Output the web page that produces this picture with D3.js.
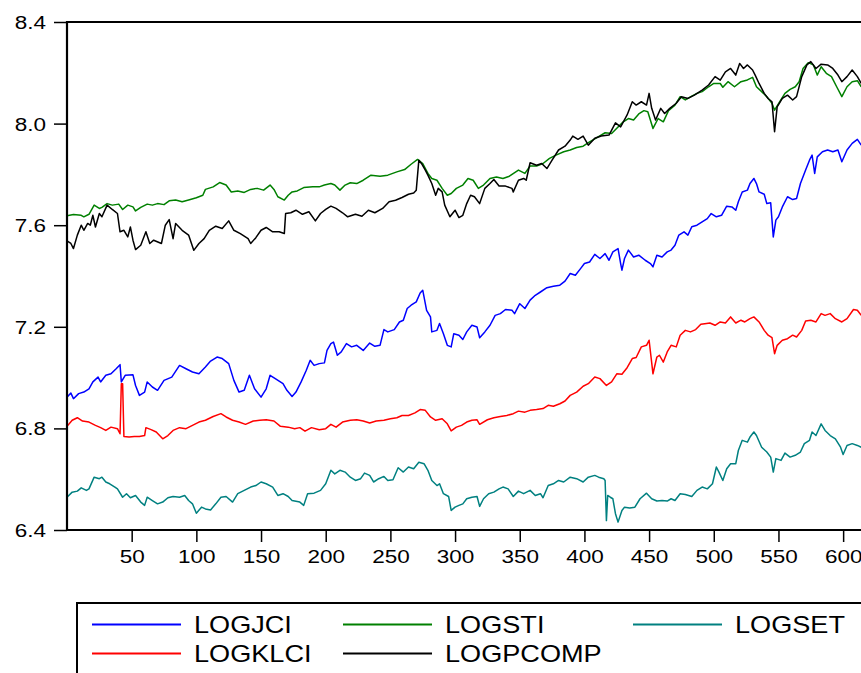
<!DOCTYPE html>
<html>
<head>
<meta charset="utf-8">
<script src="https://cdn.jsdelivr.net/npm/d3@7"></script>
<style>
  body { margin: 0; background: #fff; }
  svg { display: block; }
  text { font-family: "Liberation Sans", Arial, sans-serif; fill: #000; }
</style>
</head>
<body>
<div id="chart"></div>
<script>
const logjci = [[0,6.923],[3,6.939],[5,6.917],[9,6.937],[13,6.943],[17,6.956],[20,6.983],[24,7.002],[26,6.983],[30,7.009],[34,7.015],[38,7.035],[41,7.051],[42,6.983],[45,7.009],[51,7.011],[53,6.969],[56,6.930],[60,6.943],[62,6.983],[66,6.963],[70,6.950],[75,6.989],[81,7.002],[87,7.048],[92,7.035],[97,7.022],[102,7.015],[107,7.042],[111,7.065],[116,7.081],[120,7.075],[125,7.055],[129,6.989],[133,6.943],[137,6.950],[141,7.009],[145,6.956],[150,6.923],[154,6.956],[157,7.009],[161,6.996],[167,6.976],[170,6.950],[174,6.926],[177,6.943],[181,6.983],[185,7.029],[188,7.068],[191,7.048],[195,7.055],[199,7.058],[201,7.107],[204,7.134],[206,7.140],[209,7.088],[212,7.101],[216,7.134],[220,7.121],[224,7.127],[229,7.107],[234,7.136],[238,7.123],[242,7.127],[245,7.189],[248,7.180],[253,7.189],[257,7.219],[260,7.226],[263,7.272],[266,7.285],[270,7.298],[273,7.333],[275,7.344],[278,7.265],[281,7.239],[282,7.180],[286,7.186],[288,7.213],[291,7.173],[294,7.127],[297,7.121],[299,7.173],[303,7.167],[306,7.150],[309,7.180],[313,7.206],[317,7.199],[319,7.157],[323,7.180],[327,7.206],[331,7.245],[335,7.252],[339,7.268],[344,7.265],[346,7.252],[350,7.291],[354,7.272],[358,7.305],[362,7.324],[366,7.337],[371,7.354],[376,7.360],[381,7.364],[385,7.380],[389,7.410],[393,7.403],[397,7.429],[400,7.449],[404,7.455],[408,7.485],[412,7.469],[416,7.488],[419,7.462],[422,7.495],[426,7.508],[428,7.449],[429,7.423],[431,7.469],[434,7.502],[438,7.475],[442,7.482],[447,7.462],[451,7.449],[453,7.436],[456,7.482],[460,7.475],[464,7.495],[467,7.502],[470,7.521],[473,7.561],[477,7.574],[480,7.561],[483,7.594],[487,7.600],[491,7.613],[495,7.626],[498,7.646],[502,7.633],[506,7.639],[510,7.675],[514,7.672],[517,7.659],[519,7.692],[522,7.731],[526,7.738],[528,7.764],[531,7.784],[533,7.764],[535,7.731],[539,7.722],[541,7.685],[544,7.688],[546,7.554],[548,7.620],[550,7.633],[553,7.672],[557,7.712],[561,7.701],[564,7.705],[567,7.764],[571,7.817],[574,7.856],[576,7.876],[578,7.804],[580,7.869],[584,7.889],[588,7.896],[592,7.889],[596,7.896],[599,7.850],[603,7.896],[607,7.922],[611,7.938],[614,7.915]];

const logklci = [[0,6.808],[4,6.832],[8,6.842],[12,6.829],[17,6.825],[22,6.812],[26,6.803],[30,6.792],[34,6.805],[39,6.799],[41,6.779],[42,6.976],[43,6.976],[44,6.768],[48,6.766],[52,6.768],[56,6.768],[60,6.772],[61,6.803],[65,6.795],[69,6.786],[74,6.759],[78,6.772],[82,6.792],[87,6.803],[92,6.799],[97,6.812],[102,6.825],[107,6.832],[113,6.847],[119,6.858],[123,6.845],[128,6.832],[133,6.825],[138,6.816],[144,6.829],[149,6.832],[154,6.834],[160,6.829],[165,6.808],[171,6.805],[176,6.799],[180,6.803],[184,6.789],[189,6.803],[195,6.795],[200,6.799],[204,6.816],[208,6.805],[213,6.825],[219,6.832],[224,6.834],[229,6.829],[234,6.821],[239,6.829],[245,6.832],[250,6.838],[255,6.842],[259,6.851],[264,6.851],[269,6.861],[273,6.874],[277,6.871],[281,6.845],[285,6.832],[290,6.838],[294,6.818],[297,6.790],[301,6.805],[305,6.812],[309,6.825],[313,6.832],[317,6.834],[319,6.816],[325,6.834],[330,6.842],[335,6.847],[340,6.851],[345,6.858],[349,6.868],[354,6.864],[358,6.871],[363,6.874],[368,6.878],[372,6.891],[376,6.887],[381,6.897],[385,6.908],[389,6.930],[394,6.943],[399,6.966],[403,6.976],[408,7.002],[412,6.996],[417,6.969],[421,6.983],[425,7.015],[429,7.013],[433,7.039],[437,7.075],[440,7.079],[444,7.121],[448,7.127],[450,7.147],[453,7.015],[456,7.081],[458,7.088],[461,7.061],[464,7.101],[467,7.127],[471,7.121],[474,7.167],[478,7.186],[482,7.180],[486,7.189],[490,7.210],[493,7.212],[497,7.215],[501,7.206],[505,7.219],[509,7.215],[513,7.239],[517,7.215],[521,7.226],[524,7.219],[528,7.232],[531,7.239],[535,7.219],[539,7.186],[542,7.167],[545,7.157],[547,7.094],[549,7.127],[553,7.147],[557,7.153],[561,7.167],[564,7.160],[568,7.186],[571,7.223],[575,7.226],[579,7.219],[583,7.252],[586,7.245],[590,7.252],[594,7.232],[599,7.219],[603,7.232],[608,7.268],[611,7.265],[614,7.245]];

const logsti = [[0,7.637],[5,7.642],[11,7.639],[13,7.633],[17,7.643],[21,7.679],[25,7.666],[27,7.670],[31,7.685],[35,7.679],[40,7.683],[43,7.662],[47,7.679],[51,7.672],[53,7.656],[57,7.670],[62,7.683],[66,7.679],[70,7.685],[75,7.681],[79,7.696],[84,7.699],[89,7.692],[94,7.699],[100,7.708],[105,7.718],[107,7.741],[113,7.751],[118,7.768],[123,7.758],[127,7.731],[132,7.735],[137,7.729],[142,7.741],[147,7.745],[152,7.738],[157,7.758],[160,7.741],[163,7.712],[168,7.699],[171,7.718],[174,7.731],[178,7.735],[183,7.748],[190,7.751],[195,7.751],[199,7.758],[204,7.764],[207,7.758],[211,7.738],[215,7.758],[219,7.767],[224,7.764],[229,7.777],[235,7.797],[242,7.793],[248,7.797],[255,7.810],[261,7.819],[266,7.840],[271,7.859],[275,7.843],[279,7.804],[282,7.784],[286,7.777],[290,7.745],[294,7.718],[297,7.725],[301,7.745],[306,7.758],[310,7.784],[314,7.777],[318,7.745],[322,7.758],[327,7.784],[332,7.790],[337,7.784],[342,7.793],[349,7.817],[354,7.804],[358,7.833],[363,7.833],[368,7.843],[373,7.863],[378,7.876],[384,7.889],[389,7.896],[394,7.906],[399,7.911],[404,7.928],[408,7.940],[416,7.964],[421,7.961],[426,7.987],[430,8.007],[434,8.020],[438,8.014],[442,8.038],[446,8.051],[449,8.047],[453,7.981],[457,8.020],[461,8.007],[465,8.051],[470,8.073],[474,8.106],[478,8.093],[483,8.108],[487,8.119],[491,8.126],[496,8.145],[500,8.158],[505,8.158],[507,8.143],[511,8.165],[516,8.145],[521,8.165],[526,8.172],[530,8.182],[533,8.145],[537,8.126],[541,8.106],[545,8.080],[547,8.053],[551,8.086],[555,8.119],[559,8.135],[563,8.145],[566,8.165],[569,8.217],[573,8.240],[577,8.231],[580,8.191],[583,8.224],[587,8.198],[591,8.185],[595,8.145],[599,8.106],[603,8.145],[607,8.165],[611,8.169],[614,8.145]];

const logpcomp = [[0,7.538],[3,7.528],[5,7.508],[8,7.561],[11,7.600],[13,7.580],[16,7.607],[18,7.600],[20,7.639],[22,7.593],[25,7.646],[27,7.633],[31,7.679],[35,7.662],[39,7.646],[41,7.574],[44,7.580],[47,7.554],[49,7.593],[51,7.541],[53,7.504],[57,7.521],[61,7.574],[64,7.528],[67,7.541],[73,7.528],[76,7.600],[79,7.622],[82,7.547],[84,7.607],[89,7.580],[94,7.561],[98,7.501],[102,7.528],[106,7.547],[110,7.580],[115,7.596],[120,7.587],[125,7.617],[129,7.580],[134,7.567],[140,7.547],[142,7.528],[146,7.551],[150,7.580],[154,7.591],[159,7.574],[164,7.574],[168,7.567],[169,7.646],[173,7.649],[177,7.659],[182,7.643],[187,7.653],[192,7.617],[196,7.646],[200,7.662],[204,7.675],[208,7.666],[213,7.649],[217,7.633],[223,7.643],[228,7.635],[233,7.659],[238,7.649],[244,7.666],[249,7.692],[254,7.698],[259,7.709],[264,7.722],[268,7.727],[270,7.738],[272,7.856],[274,7.843],[277,7.817],[279,7.797],[282,7.764],[285,7.718],[287,7.745],[290,7.731],[292,7.679],[296,7.633],[300,7.659],[303,7.630],[306,7.639],[309,7.685],[312,7.718],[315,7.712],[319,7.685],[323,7.745],[327,7.764],[330,7.780],[334,7.754],[339,7.754],[344,7.745],[345,7.731],[349,7.777],[353,7.784],[355,7.777],[358,7.846],[363,7.836],[367,7.843],[371,7.823],[375,7.856],[380,7.896],[385,7.911],[389,7.935],[391,7.951],[395,7.938],[399,7.951],[403,7.915],[408,7.942],[413,7.951],[419,7.955],[424,8.003],[428,7.987],[433,8.034],[437,8.086],[440,8.073],[444,8.086],[448,8.073],[450,8.119],[452,8.060],[455,8.014],[459,8.060],[462,8.040],[466,8.060],[471,8.080],[475,8.106],[480,8.099],[485,8.112],[491,8.132],[496,8.152],[501,8.185],[505,8.171],[509,8.204],[513,8.217],[517,8.191],[520,8.237],[523,8.217],[526,8.231],[530,8.211],[532,8.191],[535,8.158],[539,8.119],[542,8.099],[545,8.086],[547,7.968],[549,8.066],[553,8.099],[557,8.112],[561,8.093],[564,8.106],[568,8.185],[572,8.231],[575,8.244],[579,8.217],[583,8.234],[588,8.231],[592,8.217],[596,8.191],[599,8.165],[603,8.185],[607,8.211],[611,8.185],[614,8.158]];

const logset = [[0,6.529],[4,6.549],[8,6.553],[11,6.566],[15,6.556],[17,6.562],[21,6.608],[25,6.602],[27,6.608],[30,6.589],[33,6.582],[37,6.569],[39,6.562],[43,6.529],[46,6.543],[49,6.527],[53,6.536],[57,6.510],[60,6.497],[62,6.529],[66,6.516],[70,6.503],[74,6.510],[78,6.527],[82,6.532],[87,6.529],[91,6.536],[94,6.516],[97,6.503],[100,6.466],[104,6.490],[107,6.483],[111,6.479],[115,6.503],[119,6.529],[123,6.532],[128,6.510],[132,6.543],[137,6.556],[142,6.569],[146,6.575],[150,6.589],[154,6.582],[159,6.569],[163,6.536],[167,6.543],[171,6.532],[174,6.516],[180,6.510],[183,6.497],[186,6.543],[191,6.545],[196,6.556],[200,6.582],[204,6.635],[207,6.621],[211,6.635],[215,6.628],[219,6.608],[223,6.595],[227,6.602],[230,6.624],[234,6.615],[237,6.589],[241,6.602],[245,6.611],[248,6.595],[252,6.598],[256,6.645],[260,6.628],[264,6.648],[268,6.641],[272,6.667],[276,6.661],[279,6.635],[282,6.595],[286,6.575],[288,6.582],[291,6.543],[295,6.532],[297,6.477],[300,6.490],[303,6.497],[306,6.503],[309,6.523],[313,6.529],[317,6.532],[319,6.493],[322,6.523],[326,6.543],[330,6.549],[334,6.562],[337,6.569],[341,6.562],[345,6.532],[349,6.553],[353,6.543],[358,6.556],[362,6.536],[366,6.543],[368,6.527],[372,6.575],[376,6.582],[380,6.595],[384,6.589],[389,6.608],[394,6.602],[399,6.589],[403,6.608],[408,6.615],[411,6.608],[415,6.602],[416,6.595],[417,6.437],[418,6.536],[420,6.529],[422,6.523],[424,6.464],[426,6.431],[429,6.477],[431,6.490],[435,6.487],[439,6.490],[443,6.523],[448,6.545],[452,6.523],[456,6.514],[460,6.516],[464,6.514],[467,6.523],[470,6.516],[474,6.543],[478,6.540],[483,6.532],[487,6.556],[491,6.569],[495,6.562],[499,6.582],[502,6.648],[504,6.628],[507,6.595],[510,6.641],[513,6.661],[517,6.661],[519,6.713],[522,6.753],[526,6.746],[528,6.766],[531,6.786],[533,6.772],[537,6.726],[541,6.707],[544,6.687],[546,6.628],[548,6.681],[552,6.674],[555,6.703],[559,6.687],[563,6.694],[567,6.707],[570,6.740],[574,6.753],[576,6.786],[579,6.772],[583,6.818],[586,6.792],[590,6.772],[594,6.759],[598,6.726],[600,6.697],[603,6.733],[607,6.740],[611,6.733],[614,6.726]];

const xTicks = [50, 100, 150, 200, 250, 300, 350, 400, 450, 500, 550, 600];
const yTicks = [6.4, 6.8, 7.2, 7.6, 8.0, 8.4];

const series = [
    { name: 'LOGJCI', data: logjci, color: '#0000ff' },
    { name: 'LOGSTI', data: logsti, color: '#008000' },
    { name: 'LOGSET', data: logset, color: '#008080' },
    { name: 'LOGKLCI', data: logklci, color: '#ff0000' },
    { name: 'LOGPCOMP', data: logpcomp, color: '#000000' }
];

const width = 861, height = 673;
const plot = { left: 67, top: 22, right: 880, bottom: 530 };
const stretch = 1.25;   // tick labels are drawn a bit wide in the reference

const svg = d3.select('#chart')
    .append('svg')
    .attr('width', width)
    .attr('height', height);

const x = d3.scaleLinear().domain([0, 628.5]).range([plot.left, plot.right]);
const y = d3.scaleLinear().domain([6.4, 8.4]).range([plot.bottom, plot.top]);

svg.append('clipPath').attr('id', 'clip')
    .append('rect')
    .attr('x', plot.left).attr('y', plot.top - 5)
    .attr('width', plot.right - plot.left).attr('height', plot.bottom - plot.top + 10);

// series lines
const line = d3.line()
    .x(d => x(d[0]))
    .y(d => y(d[1]));

svg.append('g')
    .attr('clip-path', 'url(#clip)')
    .selectAll('path')
    .data(series)
    .join('path')
    .attr('d', d => line(d.data))
    .attr('fill', 'none')
    .attr('stroke', d => d.color)
    .attr('stroke-width', 1.5)
    .attr('stroke-linejoin', 'round');

// axes
const yAxis = svg.append('g')
    .attr('transform', `translate(${plot.left},0)`)
    .call(d3.axisLeft(y).tickValues(yTicks).tickFormat(d3.format('.1f')).tickSize(13).tickPadding(8));

yAxis.select('.domain').remove();
yAxis.selectAll('line').attr('stroke', '#000').attr('stroke-width', 1.5);
yAxis.selectAll('text')
    .attr('font-size', 18)
    .attr('font-family', '"Liberation Sans", Arial, sans-serif')
    .attr('x', -21 / stretch)
    .attr('dy', '0.36em')
    .attr('transform', `scale(${stretch},1)`);

const xAxis = svg.append('g')
    .attr('transform', `translate(0,${plot.bottom})`)
    .call(d3.axisBottom(x).tickValues(xTicks).tickFormat(d3.format('d')).tickSize(12).tickPadding(8));

xAxis.select('.domain').remove();
xAxis.selectAll('line').attr('stroke', '#000').attr('stroke-width', 1.5);
xAxis.selectAll('text')
    .attr('font-size', 18)
    .attr('font-family', '"Liberation Sans", Arial, sans-serif')
    .attr('transform', `scale(${stretch},1)`);

// frame (right side runs off the picture)
svg.append('path')
    .attr('d', `M${plot.right},${plot.top}H${plot.left}V${plot.bottom}H${plot.right}`)
    .attr('fill', 'none')
    .attr('stroke', '#000')
    .attr('stroke-width', 2.2);

// legend
const legend = svg.append('g');
legend.append('rect')
    .attr('x', 77).attr('y', 603)
    .attr('width', 900).attr('height', 200)
    .attr('fill', 'none')
    .attr('stroke', '#000')
    .attr('stroke-width', 2);

const colX = [92, 343, 633];
const rowY = [624.5, 653.5];
const legendStretch = 1.13;

const items = legend.selectAll('g.item')
    .data(series)
    .join('g')
    .attr('class', 'item')
    .attr('transform', (d, i) => `translate(${colX[i % 3]},${rowY[Math.floor(i / 3)]})`);

items.append('line')
    .attr('x1', 0).attr('x2', 89)
    .attr('y1', 0).attr('y2', 0)
    .attr('stroke', d => d.color)
    .attr('stroke-width', 1.8);

items.append('text')
    .attr('transform', `translate(102,8.5) scale(${legendStretch},1)`)
    .attr('font-size', 24)
    .text(d => d.name);
</script>
</body>
</html>
